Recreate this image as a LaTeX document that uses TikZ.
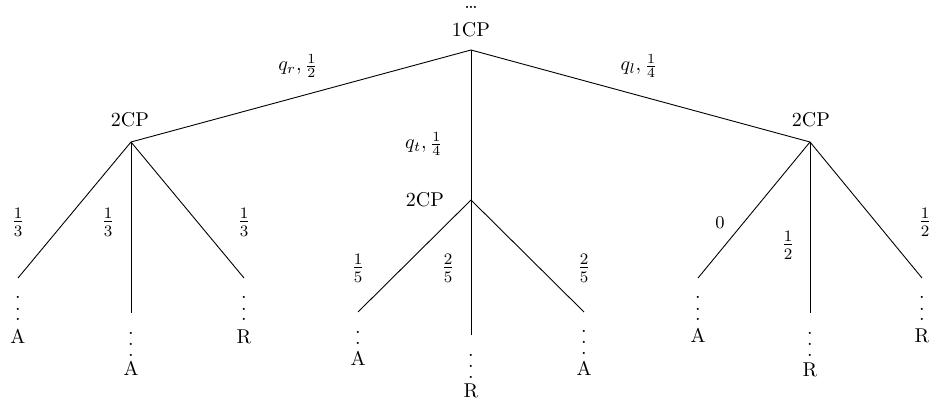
\documentclass[tikz,border=0pt]{standalone}
\newcommand\tdots{\vbox{\baselineskip5.5pt\lineskiplimit0pt\hbox{.}\hbox{.}\hbox{.}}}
\begin{document}
\begin{tikzpicture}[x=0.5pt,y=-0.5pt,
  txt/.style={inner sep=0pt,anchor=base},
  lbl/.style={inner sep=0pt,anchor=center},
  frc/.style={inner sep=0pt,anchor=center,font=\large},
  edge/.style={draw=black,line width=0.45pt}]
\useasboundingbox (0,0) rectangle (931,406);
% branch points
\coordinate (r) at (471,50);
\coordinate (L) at (131,142);
\coordinate (M) at (471,200);
\coordinate (R) at (810,142);
% leaf ends
\coordinate (L1) at (18,278);
\coordinate (L2) at (131,313);
\coordinate (L3) at (244,278);
\coordinate (M1) at (358,312);
\coordinate (M2) at (471,335);
\coordinate (M3) at (584,312);
\coordinate (R1) at (698,278);
\coordinate (R2) at (810,313);
\coordinate (R3) at (922,278);
% edges
\path[edge] (r) -- (L);
\path[edge] (r) -- (M);
\path[edge] (r) -- (R);
\path[edge] (L) -- (L1);
\path[edge] (L) -- (L2);
\path[edge] (L) -- (L3);
\path[edge] (M) -- (M1);
\path[edge] (M) -- (M2);
\path[edge] (M) -- (M3);
\path[edge] (R) -- (R1);
\path[edge] (R) -- (R2);
\path[edge] (R) -- (R3);
% node labels
\node[txt] (topdots) at (471,9) {\ldots};
\node[txt] (cp1) at (471,37) {1CP};
\node[txt] (cpL) at (130,127) {2CP};
\node[txt] (cpR) at (811,127) {2CP};
\node[txt] (cpM) at (425,207) {2CP};
% edge labels
\node[lbl] (eqr) at (298,66) {$q_r,\frac12$};
\node[lbl] (eql) at (639,66) {$q_l,\frac14$};
\node[lbl] (eqt) at (424,144) {$q_t,\frac14$};
\node[frc] (pL1) at (18,222) {$\frac13$};
\node[frc] (pL2) at (108,222) {$\frac13$};
\node[frc] (pL3) at (244,222) {$\frac13$};
\node[frc] (pM1) at (358,268) {$\frac15$};
\node[frc] (pM2) at (448,268) {$\frac25$};
\node[frc] (pM3) at (584,268) {$\frac25$};
\node[lbl,font=\fontsize{9}{11}\selectfont] (pR1) at (720,222.5) {0};
\node[frc] (pR2) at (788,245) {$\frac12$};
\node[frc] (pR3) at (925,222) {$\frac12$};
% continuation dots
\node[txt] (dL1) at (18,321) {\tdots};
\node[txt] (dL2) at (131,356) {\tdots};
\node[txt] (dL3) at (244,321) {\tdots};
\node[txt] (dM1) at (358,355) {\tdots};
\node[txt] (dM2) at (471,378) {\tdots};
\node[txt] (dM3) at (584,354) {\tdots};
\node[txt] (dR1) at (698,321) {\tdots};
\node[txt] (dR2) at (810,356) {\tdots};
\node[txt] (dR3) at (922,321) {\tdots};
% outcomes
\node[txt] (oL1) at (18,343) {A};
\node[txt] (oL2) at (131,375) {A};
\node[txt] (oL3) at (244,343) {R};
\node[txt,fill=white,inner sep=0.3pt] (oM1) at (358,365) {A};
\node[txt] (oM2) at (471,397) {R};
\node[txt] (oM3) at (584,375) {A};
\node[txt] (oR1) at (698,342) {A};
\node[txt] (oR2) at (810,376) {R};
\node[txt] (oR3) at (922,342) {R};
\end{tikzpicture}
\end{document}
